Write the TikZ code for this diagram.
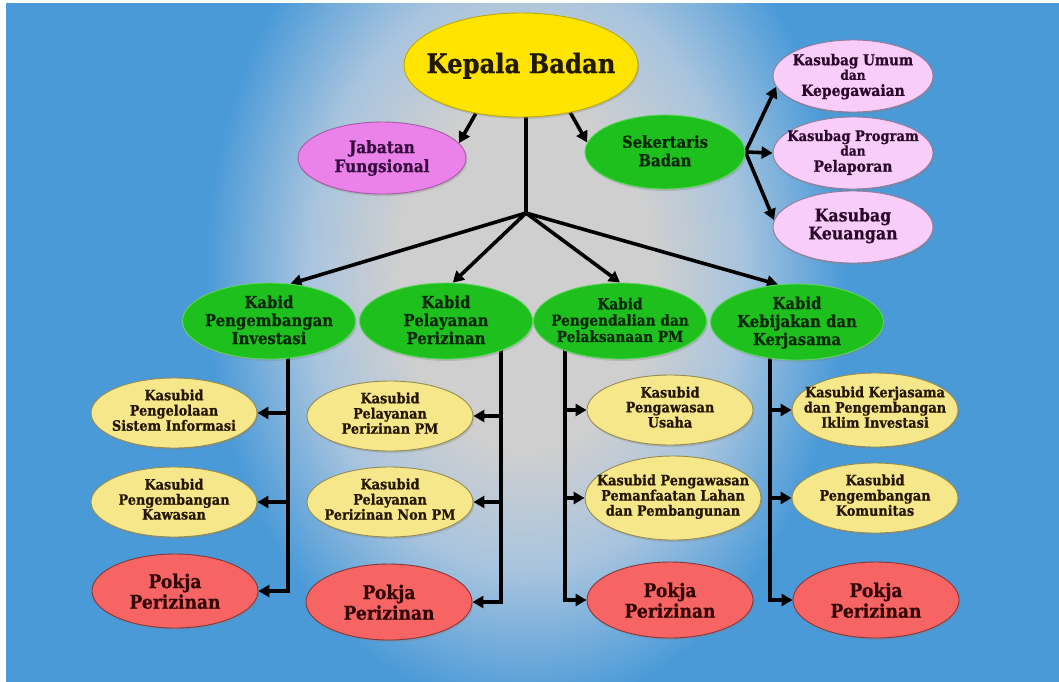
\documentclass[tikz,border=0pt]{standalone}
\usepackage{fontspec}
\setmainfont{DejaVu Serif}[FakeStretch=0.9, BoldFeatures={FakeBold=0.7}]
\usetikzlibrary{shapes.geometric,arrows.meta,shadows}

% palette
\definecolor{bgblue}{HTML}{4A9AD8}
\definecolor{glowc}{HTML}{CFCFCF}
\definecolor{glowmid}{HTML}{A8C4DE}
\definecolor{kyellow}{HTML}{FFE400}
\definecolor{korchid}{HTML}{EA82EA}
\definecolor{kgreen}{HTML}{1EC01E}
\definecolor{kpink}{HTML}{F9CDF9}
\definecolor{kcream}{HTML}{F6E88A}
\definecolor{kred}{HTML}{F66464}
\definecolor{tyellow}{HTML}{221A00}
\definecolor{torchid}{HTML}{360A3E}
\definecolor{tgreen}{HTML}{082808}
\definecolor{tpink}{HTML}{2A082A}
\definecolor{tcream}{HTML}{241600}
\definecolor{tred}{HTML}{330606}

% grey glow; the middle 50bp square is stretched over the shaded path
\pgfdeclareradialshading{glow}{\pgfpoint{0bp}{0bp}}{%
  color(0bp)=(glowc); color(10bp)=(glowc); color(17bp)=(glowmid);
  color(25bp)=(bgblue); color(50bp)=(bgblue)}

\pgfdeclarelayer{back}
\pgfdeclarelayer{mid}
\pgfsetlayers{back,mid,main}

% centred multi-line label that does not enlarge the ellipse
\def\tshift{-.38em}
\newcommand\etext[1]{\raisebox{\tshift}{\makebox[0pt]{\smash{\begin{tabular}{@{}c@{}}#1\end{tabular}}}}}

\tikzset{
  oval/.style={ellipse, inner sep=0pt, line width=0.9pt,
    drop shadow={opacity=0.3, shadow xshift=1.2pt, shadow yshift=-2pt}},
  boss/.style={oval, fill=kyellow, draw=kyellow!75!black, text=tyellow,
    minimum width=234pt, minimum height=104pt,
    font=\bfseries\fontsize{27}{30}\selectfont\def\tshift{-.62em}},
  fung/.style={oval, fill=korchid, draw=korchid!70!black, text=torchid,
    minimum width=168pt, minimum height=72pt,
    font=\bfseries\fontsize{17}{19}\selectfont\def\tshift{-.6em}},
  sek/.style={oval, fill=kgreen, draw=kgreen!70!white, text=tgreen,
    minimum width=160pt, minimum height=74pt,
    font=\bfseries\fontsize{16.5}{18.5}\selectfont\def\tshift{-.68em}},
  bag/.style={oval, fill=kpink, draw=kpink!60!black, text=tpink,
    minimum width=160pt, minimum height=72pt,
    font=\bfseries\fontsize{15}{14.5}\selectfont\def\tshift{-.62em}},
  kabid/.style={oval, fill=kgreen, draw=kgreen!70!white, text=tgreen,
    minimum width=173pt, minimum height=76pt,
    font=\bfseries\fontsize{16.5}{18}\selectfont\def\tshift{-.7em}},
  sub/.style={oval, fill=kcream, draw=kcream!60!black, text=tcream,
    minimum width=166pt, minimum height=70pt,
    font=\bfseries\fontsize{14.3}{14.5}\selectfont\def\tshift{-.4em}},
  pokja/.style={oval, fill=kred, draw=kred!55!black, text=tred,
    minimum width=166pt, minimum height=74pt,
    font=\bfseries\fontsize{19}{20.5}\selectfont\def\tshift{-.8em}},
  ln/.style={line width=3.6pt, black},
  arr/.style={ln, -{Triangle[length=11pt,width=12pt]}},
}

\begin{document}
\begin{tikzpicture}[x=1pt,y=-1pt]
\useasboundingbox (0,0) rectangle (1059,681);

% backdrop: blue panel with a soft grey glow behind the chart
\begin{pgfonlayer}{back}
  \fill[white] (-5,-5) rectangle (1065,690);
  \fill[bgblue] (6,3) rectangle (1065,690);
  \begin{scope}
    \clip (6,3) rectangle (1065,690);
    \shade[shading=glow] (205,-160) rectangle (845,710);
  \end{scope}
\end{pgfonlayer}

% top level
\node[boss] (kb) at (521,65) {\etext{Kepala Badan}};
\node[fung] (jf) at (382,158) {\etext{Jabatan\\Fungsional}};
\node[sek]  (sk) at (665,152) {\etext{Sekertaris\\Badan}};

% secretariat units
\node[bag] (ku) at (853,76)
  {\etext{Kasubag Umum\\{\fontsize{13.5}{13.5}\selectfont dan}\\{\fontsize{15.5}{15.5}\selectfont Kepegawaian}}};
\node[bag, font=\bfseries\fontsize{14.5}{14.5}\selectfont\def\tshift{-.5em}] (kp) at (853,153)
  {\etext{Kasubag Program\\{\fontsize{13.5}{13.5}\selectfont dan}\\{\fontsize{15.5}{15.5}\selectfont Pelaporan}}};
\node[bag, font=\bfseries\fontsize{17.5}{17.5}\selectfont\def\tshift{-.42em}] (kk) at (853,227)
  {\etext{Kasubag\\Keuangan}};

% divisions
\node[kabid] (k1) at (269,321) {\etext{Kabid\\Pengembangan\\Investasi}};
\node[kabid] (k2) at (446,321) {\etext{Kabid\\Pelayanan\\Perizinan}};
\node[kabid, font=\bfseries\fontsize{15.2}{16}\selectfont\def\tshift{-.64em}] (k3) at (620,321)
  {\etext{Kabid\\Pengendalian dan\\Pelaksanaan PM}};
\node[kabid] (k4) at (797,322) {\etext{Kabid\\Kebijakan dan\\Kerjasama}};

% sub-divisions and working groups
\node[sub]   (s11) at (174,413) {\etext{Kasubid\\Pengelolaan\\Sistem Informasi}};
\node[sub]   (s12) at (174,502) {\etext{Kasubid\\Pengembangan\\Kawasan}};
\node[pokja] (p1)  at (175,591) {\etext{Pokja\\Perizinan}};

\node[sub]   (s21) at (390,416) {\etext{Kasubid\\Pelayanan\\Perizinan PM}};
\node[sub]   (s22) at (390,502) {\etext{Kasubid\\Pelayanan\\Perizinan Non PM}};
\node[pokja, minimum height=76pt] (p2) at (389,602) {\etext{Pokja\\Perizinan}};

\node[sub]   (s31) at (670,410) {\etext{Kasubid\\Pengawasan\\Usaha}};
\node[sub, minimum width=176pt, minimum height=84pt] (s32) at (673,498)
  {\etext{Kasubid Pengawasan\\Pemanfaatan Lahan\\dan Pembangunan}};
\node[pokja, minimum height=76pt] (p3) at (670,600) {\etext{Pokja\\Perizinan}};

\node[sub, minimum height=74pt] (s41) at (875,410)
  {\etext{Kasubid Kerjasama\\dan Pengembangan\\Iklim Investasi}};
\node[sub]   (s42) at (875,498) {\etext{Kasubid\\Pengembangan\\Komunitas}};
\node[pokja, minimum height=76pt] (p4) at (876,600) {\etext{Pokja\\Perizinan}};

% connectors (kept beneath the ovals)
\coordinate (j)  at (526,213);
\coordinate (c1) at (288,0);
\coordinate (c2) at (501,0);
\coordinate (c3) at (565,0);
\coordinate (c4) at (770,0);

\begin{pgfonlayer}{mid}
  \draw[arr] (kb.227) -- (jf.11);
  \draw[arr] (kb.316) -- (sk.173);
  \draw[ln]  (kb.center -| j) -- (j);
  \draw[arr] (j) -- (k1.60);
  \draw[arr] (j) -- (k2.80);
  \draw[arr] (j) -- (k3.north);
  \draw[arr] (j) -- (k4.117);

  \draw[arr] (sk.east) -- (ku.188);
  \draw[arr] (sk.east) -- (kp.west);
  \draw[arr] (sk.east) -- (kk.175);

  \draw[arr] (k1.center -| c1) |- (p1.east);
  \draw[arr] (s11.east -| c1) -- (s11.east);
  \draw[arr] (s12.east -| c1) -- (s12.east);

  \draw[arr] (k2.center -| c2) |- (p2.east);
  \draw[arr] (s21.east -| c2) -- (s21.east);
  \draw[arr] (s22.east -| c2) -- (s22.east);

  \draw[arr] (k3.center -| c3) |- (p3.west);
  \draw[arr] (s31.west -| c3) -- (s31.west);
  \draw[arr] (s32.west -| c3) -- (s32.west);

  \draw[arr] (k4.center -| c4) |- (p4.west);
  \draw[arr] (s41.west -| c4) -- (s41.west);
  \draw[arr] (s42.west -| c4) -- (s42.west);
\end{pgfonlayer}
\end{tikzpicture}
\end{document}
